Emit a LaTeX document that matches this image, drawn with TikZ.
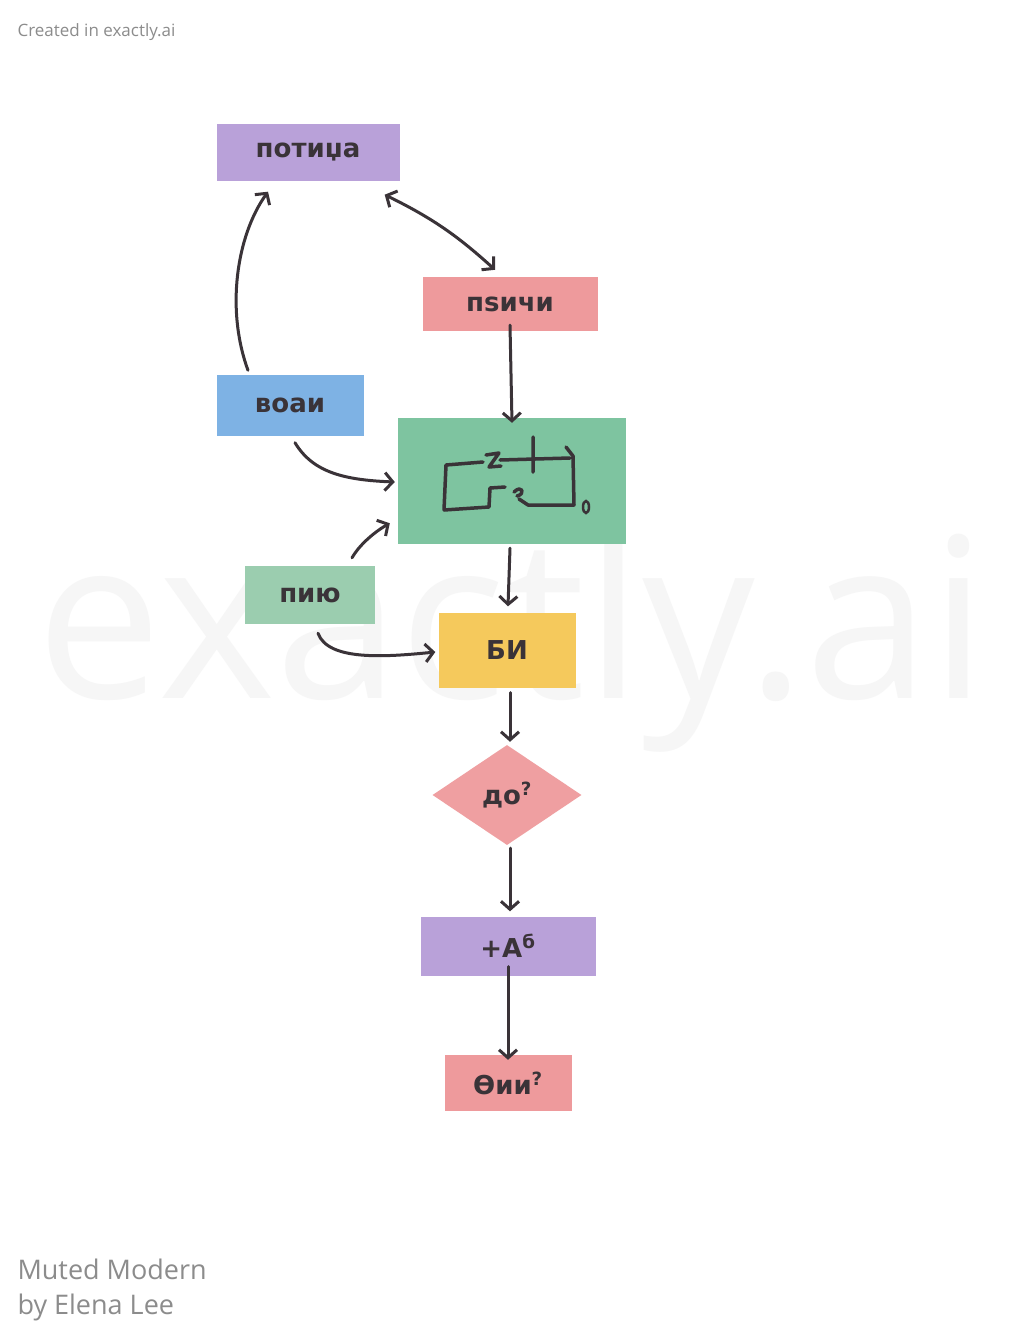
\documentclass[tikz,border=0pt]{standalone}
\usepackage{fontspec}
\setmainfont{DejaVu Sans}
\newfontfamily\markfont{Open Sans}
\usetikzlibrary{arrows.meta,shapes.geometric}
\definecolor{ink}{HTML}{3A3338}
\definecolor{lilac}{HTML}{B9A1D9}
\definecolor{rose}{HTML}{EE9A9C}
\definecolor{sky}{HTML}{7EB2E4}
\definecolor{mint}{HTML}{7EC4A0}
\definecolor{palemint}{HTML}{9BCDAF}
\definecolor{sun}{HTML}{F5C95C}
\definecolor{note}{HTML}{8C8C8C}
\begin{document}
\begin{tikzpicture}[x=1pt,y=-1pt,
  card/.style={rectangle,inner sep=0,text=ink,font=\bfseries\fontsize{26}{26}\selectfont},
  flow/.style={draw=ink,line width=3pt,line cap=round,-{Straight Barb[length=8pt,width=18pt,line width=3pt]}}]
\useasboundingbox (0,0) rectangle (1024,1344);
\fill[white] (0,0) rectangle (1024,1344);
\node[text=gray!7,font=\markfont\fontsize{224}{224}\selectfont] (mark) at (512,640) {exactly.ai};
\node[anchor=west,text=note,font=\markfont\fontsize{17}{17}\selectfont] (made) at (14,32) {Created in exactly.ai};
\node[anchor=west,text=note,font=\markfont\fontsize{27}{27}\selectfont] (style) at (14,1269) {Muted Modern};
\node[anchor=west,text=note,font=\markfont\fontsize{27}{27}\selectfont] (by) at (14,1307) {by Elena Lee};
% boxes
\node[card,fill=lilac,minimum width=183,minimum height=57] (potidza) at (308,152) {потиџа};
\node[card,fill=rose,minimum width=175,minimum height=54] (psichi) at (510,304) {пѕичи};
\node[card,fill=sky,minimum width=147,minimum height=61] (voai) at (290,405) {воаи};
\node[card,fill=mint,minimum width=228,minimum height=126] (sketch) at (512,481) {};
\node[card,fill=palemint,minimum width=130,minimum height=58] (piyu) at (310,595) {пию};
\node[card,fill=sun,minimum width=137,minimum height=75] (bi) at (507,650) {БИ};
\node[card,diamond,aspect=1.5,fill=rose!95!white,minimum width=149,minimum height=100] (dop) at (507,795) {до\textsuperscript{?}};
\node[card,fill=lilac,minimum width=175,minimum height=59] (tab) at (508,946) {+А\textsuperscript{б}};
\node[card,fill=rose,minimum width=127,minimum height=56] (oii) at (508,1083) {Өии\textsuperscript{?}};
% scribble inside the green box
\draw[ink,line width=3.5pt,line join=round,line cap=round] (444,510) -- (446,465) -- (483,462) (500,460) -- (570,458)
  (486,455) -- (499,453) -- (489,467) -- (501,466) (533,437) -- (533,472)
  (566,447) -- (573,456) -- (574,505) -- (528,505) -- (519,499)
  (444,510) -- (489,507) -- (490,488) -- (505,487)
  (514,492) .. controls (522,484) and (526,494) .. (517,496);
\draw[ink,line width=2.5pt] (586,507) ellipse (3 and 6);
% connectors
\draw[flow,{Straight Barb[length=8pt,width=18pt,line width=3pt]}-{Straight Barb[length=8pt,width=18pt,line width=3pt]}]
  ([shift={(-15,14)}]potidza.south east) to[bend left=8] ([shift={(-15,-7)}]psichi.north);
\draw[flow] ([shift={(-42,-4)}]voai.north) .. controls +(-22,-60) and +(-32,45) .. ([shift={(-40,11)}]potidza.south);
\draw[flow] ([yshift=6]psichi.south) -- ([yshift=-5]sketch.north);
\draw[flow] ([shift={(5,7)}]voai.south) .. controls +(18,30) and +(-50,-2) .. ([shift={(-3,1)}]sketch.west);
\draw[flow] ([shift={(42,-8)}]piyu.north) .. controls +(8,-14) and +(-14,8) .. ([shift={(-8,-21)}]sketch.south west);
\draw[flow] ([shift={(8,9)}]piyu.south) .. controls +(10,28) and +(-50,5) .. ([shift={(-3,2)}]bi.west);
\draw[flow] ([shift={(-2,4)}]sketch.south) -- ([shift={(1,-6)}]bi.north);
\draw[flow] ([shift={(3,5)}]bi.south) -- ([shift={(3,-3)}]dop.north);
\draw[flow] ([shift={(3,3)}]dop.south) -- ([shift={(2,-5)}]tab.north);
\draw[flow] ([yshift=9]tab.south) -- ([yshift=-5]oii.north);
\end{tikzpicture}
\end{document}
